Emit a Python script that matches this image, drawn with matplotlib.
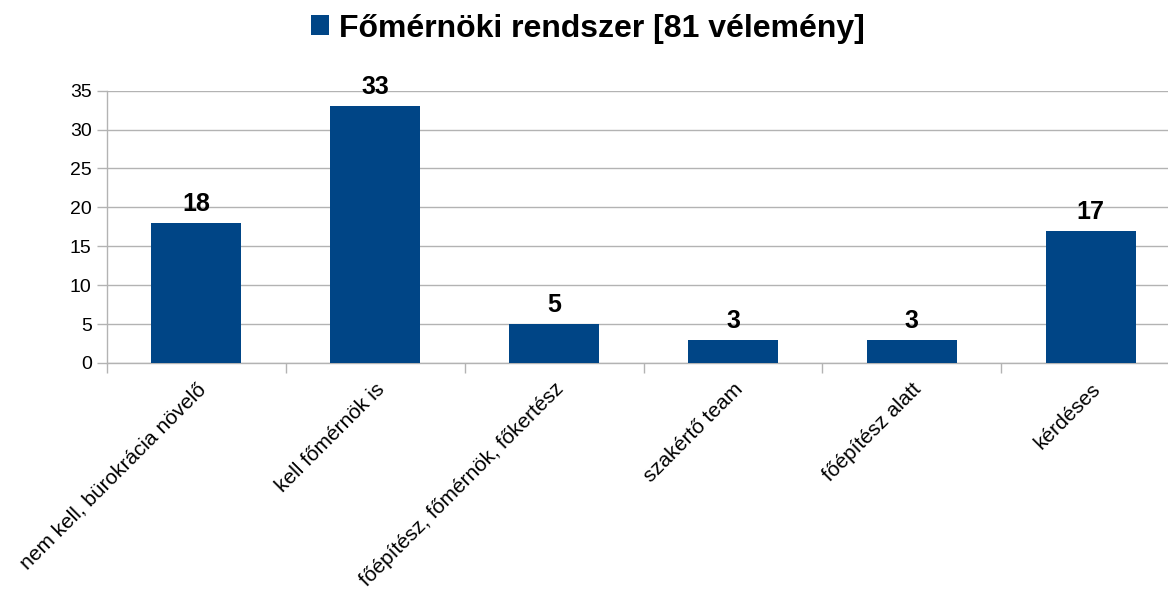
import matplotlib.pyplot as plt
import numpy as np

# -------------------------------------------------------------
# Data
# -------------------------------------------------------------
title = "Főmérnöki rendszer [81 vélemény]"
categories = [
    "nem kell, bürokrácia növelő",
    "kell főmérnök is",
    "főépítész, főmérnök, főkertész",
    "szakértő team",
    "főépítész alatt",
    "kérdéses",
]
counts = [18, 33, 5, 3, 3, 17]

BAR_COLOR = "#004586"
GRID_COLOR = "#b3b3b3"

plt.rcParams["font.family"] = ["Liberation Sans", "DejaVu Sans"]

fig = plt.figure(figsize=(11.68, 5.94), dpi=100)
# plot area runs a little past the right edge, as in the reference
ax = fig.add_axes([0.0916, 0.389, 0.9187, 0.4584])

x = np.arange(len(categories))
bars = ax.bar(x, counts, width=0.503, color=BAR_COLOR, label=title, zorder=3)
ax.bar_label(bars, padding=5, fontsize=18, fontweight="bold")

# -------------------------------------------------------------
# Axes styling
# -------------------------------------------------------------
ax.set_ylim(0, 35)
ax.set_yticks(np.arange(0, 36, 5))
ax.set_xlim(-0.5, len(categories) - 0.5)
ax.yaxis.grid(True, color=GRID_COLOR, linewidth=1, zorder=0)

# tick marks at category boundaries, labels at centres
ax.set_xticks(np.arange(len(categories) + 1) - 0.5)
ax.set_xticklabels([])
ax.set_xticks(x, categories, minor=True)
ax.tick_params(axis="x", which="minor", length=0, pad=12)
ax.tick_params(axis="x", which="major", length=7, color=GRID_COLOR, width=1)
ax.tick_params(axis="y", length=7, color=GRID_COLOR, width=1, labelsize=14, pad=4)
for lbl in ax.get_xticklabels(minor=True):
    lbl.set_rotation(45)
    lbl.set_ha("right")
    lbl.set_va("top")
    lbl.set_rotation_mode("anchor")
    lbl.set_fontsize(15)

for side in ["top", "right"]:
    ax.spines[side].set_visible(False)
for side in ["left", "bottom"]:
    ax.spines[side].set_color(GRID_COLOR)
    ax.spines[side].set_linewidth(1)

# series legend acts as the title
fig.legend(
    loc="center",
    bbox_to_anchor=(0.5034, 0.952),
    frameon=False,
    prop={"size": 23, "weight": "bold"},
    handlelength=0.56,
    handleheight=0.56,
    handletextpad=0.3,
)

fig.savefig("out.png", dpi=100)
